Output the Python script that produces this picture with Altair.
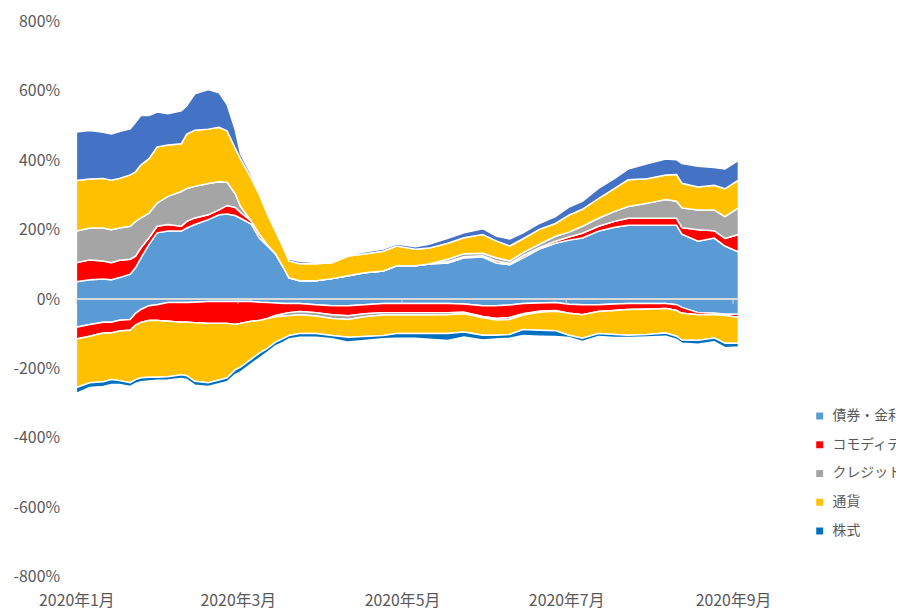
import altair as alt
import pandas as pd

FONT = "Noto Sans CJK JP"
TEXT = "#595959"

dates = ["2020-01-01", "2020-01-06", "2020-01-11", "2020-01-14", "2020-01-17", "2020-01-21",
         "2020-01-23", "2020-01-25", "2020-01-28", "2020-01-31",
         "2020-02-04", "2020-02-09", "2020-02-11", "2020-02-14", "2020-02-19", "2020-02-23",
         "2020-02-26", "2020-02-29",
         "2020-03-02", "2020-03-06", "2020-03-09", "2020-03-12", "2020-03-15", "2020-03-18",
         "2020-03-20", "2020-03-24", "2020-03-30",
         "2020-04-05", "2020-04-11", "2020-04-17", "2020-04-24", "2020-04-29",
         "2020-05-06", "2020-05-11", "2020-05-18", "2020-05-24", "2020-05-31",
         "2020-06-05", "2020-06-10", "2020-06-15", "2020-06-21", "2020-06-27",
         "2020-07-02", "2020-07-07", "2020-07-13", "2020-07-19", "2020-07-24", "2020-07-31",
         "2020-08-07", "2020-08-11", "2020-08-13", "2020-08-19", "2020-08-25", "2020-08-29",
         "2020-09-03"]

# positive side (%)
bond_pos = [50, 56, 58, 56, 62, 72, 91, 119, 158, 191,
            196, 196, 205, 215, 229, 243, 245, 241,
            233, 216, 176, 153, 130, 90, 61, 53, 53,
            59, 67, 76, 81, 96,
            96, 101, 104, 119, 121,
            104, 99, 119, 144, 161,
            170, 176, 196, 207, 213, 213,
            213, 213, 187, 167, 176, 153,
            136]
comm_pos = [55, 57, 52, 49, 50, 43, 33, 29, 19, 19,
            19, 14, 19, 19, 14, 14, 25, 23,
            17, 9, 11, 3, 0, 0, 0, 0, 0,
            0, 0, 0, 0, 0,
            0, 0, 4, 3, 4,
            6, 4, 6, 4, 6,
            9, 14, 14, 17, 20, 20,
            20, 20, 19, 33, 21, 22,
            50]
cred_pos = [91, 92, 95, 95, 93, 95, 100, 86, 71, 67,
            81, 100, 95, 91, 90, 81, 67, 40,
            17, 0, 0, 0, 0, 0, 0, 0, 0,
            0, 0, 0, 0, 0,
            0, 0, 7, 9, 7,
            9, 7, 9, 10, 14,
            14, 20, 23, 29, 34, 43,
            54, 49, 57, 57, 60, 63,
            77]
fx_pos = [146, 141, 143, 143, 143, 148, 143, 153, 157, 162,
          148, 138, 157, 162, 157, 157, 148, 131,
          137, 123, 114, 89, 66, 57, 49, 49, 49,
          46, 57, 54, 57, 57,
          48, 46, 46, 46, 54,
          49, 43, 40, 43, 37,
          49, 49, 57, 66, 77, 71,
          71, 77, 71, 66, 71, 80,
          80]
eq_pos = [140, 140, 133, 133, 135, 133, 143, 143, 124, 100,
          90, 95, 81, 105, 114, 100, 76, 54,
          14, 11, 9, 6, 3, 3, 6, 6, 4,
          4, 4, 6, 6, 6,
          7, 11, 14, 14, 17,
          14, 20, 17, 17, 20,
          23, 23, 29, 29, 31, 43,
          46, 43, 57, 60, 51, 57,
          57]

# negative side (%)
bond_neg = [-81, -73, -67, -67, -61, -59, -41, -30, -19, -16,
            -10, -10, -10, -9, -7, -7, -7, -7,
            -7, -7, -9, -10, -11, -13, -13, -13, -16,
            -19, -19, -16, -13, -13,
            -13, -13, -13, -14, -19,
            -19, -17, -13, -11, -10,
            -15, -16, -16, -14, -13, -13,
            -13, -16, -24, -39, -41, -43,
            -44]
comm_neg = [-34, -34, -31, -31, -31, -31, -34, -37, -43, -46,
            -54, -57, -57, -59, -63, -63, -63, -66,
            -63, -57, -53, -46, -36, -29, -26, -23, -23,
            -26, -29, -26, -26, -26,
            -26, -26, -26, -24, -31,
            -37, -36, -29, -24, -23,
            -26, -29, -20, -19, -17, -16,
            -14, -17, -17, -6, -4, -4,
            -9]
cred_neg = [0, 0, 0, 0, 0, 0, 0, 0, 0, 0,
            0, 0, 0, 0, 0, 0, 0, 0,
            0, 0, 0, 0, -4, -7, -9, -9, -10,
            -11, -11, -9, -7, -7,
            -7, -7, -6, -4, -4,
            -4, -6, -4, -3, -2,
            0, 0, 0, 0, 0, 0,
            0, 0, 0, 0, 0, 0,
            0]
fx_neg = [-140, -134, -140, -134, -143, -151, -157, -160, -163, -163,
          -160, -151, -154, -169, -171, -163, -157, -131,
          -126, -109, -94, -86, -73, -64, -57, -54, -50,
          -49, -51, -57, -59, -53,
          -53, -53, -54, -53, -50,
          -44, -43, -42, -52, -56,
          -63, -68, -63, -69, -74, -73,
          -71, -74, -77, -74, -67, -80,
          -74]
eq_neg = [-17, -14, -14, -14, -11, -11, -11, -11, -11, -9,
          -9, -11, -11, -11, -11, -11, -11, -14,
          -14, -14, -14, -11, -11, -11, -10, -11, -11,
          -9, -14, -11, -9, -14,
          -14, -17, -20, -14, -14,
          -11, -11, -17, -17, -17,
          -7, -9, -9, -9, -7, -7,
          -9, -9, -9, -11, -11, -13,
          -11]

legend_names = ["債券・金利", "コモディティ", "クレジット", "通貨", "株式"]
pos_names = ["債券・金利", "コモディティ", "クレジット", "通貨", "株式(ロング)"]
neg_names = ["債券・金利", "コモディティ", "クレジット", "通貨", "株式"]
color_domain = legend_names + ["株式(ロング)"]
color_range = ["#5B9BD5", "#FF0000", "#A5A5A5", "#FFC000", "#0070C0", "#4472C4"]

tick_dates = ["2020-01-01", "2020-03-01", "2020-05-01", "2020-07-01", "2020-09-01"]

pos_rows, neg_rows = [], []
for i, d in enumerate(dates):
    for k, (nm, arr) in enumerate(zip(pos_names, [bond_pos, comm_pos, cred_pos, fx_pos, eq_pos])):
        pos_rows.append({"date": d, "asset": nm, "value": arr[i], "ord": k})
    for k, (nm, arr) in enumerate(zip(neg_names, [bond_neg, comm_neg, cred_neg, fx_neg, eq_neg])):
        neg_rows.append({"date": d, "asset": nm, "value": arr[i], "ord": k})
pos_df = pd.DataFrame(pos_rows)
neg_df = pd.DataFrame(neg_rows)
tick_df = pd.DataFrame({"date": tick_dates})

x_scale = alt.Scale(type="utc",
                    domain=[alt.DateTime(year=2020, month=1, date=1, utc=True),
                            alt.DateTime(year=2020, month=9, date=3, utc=True)])
y_scale = alt.Scale(domain=[-800, 800], nice=False, zero=False)

x_axis = alt.Axis(
    title=None, grid=False, domain=False, ticks=False,
    values=[alt.DateTime(year=2020, month=m, date=1, utc=True) for m in [1, 3, 5, 7, 9]],
    labelExpr="utcFormat(datum.value, '%Y年%-m月')",
    labelFont=FONT, labelFontSize=16, labelColor=TEXT, labelPadding=16,
    labelOverlap=False, labelBound=False, labelFlush=False)
y_axis = alt.Axis(
    title=None, grid=False, domain=False, ticks=False,
    values=list(range(-800, 801, 200)),
    labelExpr="datum.value + '%'",
    labelFont=FONT, labelFontSize=16, labelColor=TEXT, labelPadding=17)

color = alt.Color(
    "asset:N",
    scale=alt.Scale(domain=color_domain, range=color_range),
    legend=alt.Legend(values=legend_names, orient="none", legendX=743, legendY=391,
                      title=None, symbolType="square", symbolSize=49,
                      symbolStrokeWidth=0, labelFont=FONT, labelFontSize=14,
                      labelColor=TEXT, rowPadding=15, labelOffset=6, padding=0,
                      labelLimit=300))

area_kw = dict(stroke="white", strokeWidth=1.5, interpolate="linear", opacity=1, fillOpacity=1)


def stacked(df):
    return alt.Chart(df).transform_window(
        top="sum(value)", groupby=["date"],
        sort=[alt.SortField("ord", order="ascending")], frame=[None, 0]
    ).transform_calculate(
        base="datum.top - datum.value"
    ).mark_area(**area_kw).encode(
        x=alt.X("date:T", scale=x_scale, axis=x_axis),
        y=alt.Y("top:Q", scale=y_scale, axis=y_axis),
        y2="base:Q",
        color=color,
    )


pos = stacked(pos_df)
neg = stacked(neg_df)

zero = alt.Chart(tick_df).mark_rule(color="#D9D9D9", strokeWidth=1).encode(
    y=alt.datum(0)
)
ticks = alt.Chart(tick_df).mark_rule(color="#D9D9D9", strokeWidth=1).encode(
    x=alt.X("date:T", scale=x_scale, axis=x_axis),
    y=alt.datum(0),
    y2=alt.datum(-14),
)

chart = alt.layer(pos, neg, zero, ticks).properties(
    width=668, height=560,
    autosize=alt.AutoSizeParams(type="none"),
    padding={"left": 69, "top": 11, "right": 159, "bottom": 32},
    background="white",
).configure_view(strokeWidth=0)

chart.save("out.html", embed_options={"renderer": "svg", "actions": False})
